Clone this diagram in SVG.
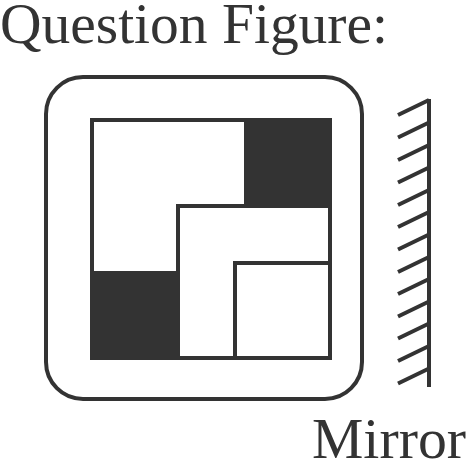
<svg xmlns="http://www.w3.org/2000/svg" width="468" height="464" viewBox="0 0 468 464">
<style>
.ln{fill:none;stroke:#333;stroke-width:4}
.blk{fill:#333;stroke:none}
.txt{font-family:"Liberation Serif","Times New Roman",serif;fill:#333}
</style>
<rect width="468" height="464" fill="#fff"/>
<text class="txt" x="0" y="43" font-size="57" textLength="388" lengthAdjust="spacingAndGlyphs">Question Figure:</text>
<g id="frame">
<rect class="ln" x="46" y="77" width="316" height="322" rx="37" ry="37"/>
</g>
<g id="figure">
<rect class="blk" x="244" y="118" width="88" height="90"/>
<rect class="blk" x="90" y="271" width="90" height="89"/>
<rect class="ln" x="92" y="120" width="238" height="238"/>
<polyline class="ln" points="178,358 178,206 330,206"/>
<polyline class="ln" points="235,358 235,263 330,263"/>
</g>
<g id="mirror">
<line class="ln" x1="429" y1="99" x2="429" y2="387"/>
<g class="ln">
<path d="M398,115 L429,100 M398,137.5 L429,122.5 M398,160 L429,145 M398,182.5 L429,167.5 M398,205 L429,190 M398,227 L429,212 M398,249.5 L429,234.5 M398,272 L429,257 M398,294 L429,279 M398,316.5 L429,301.5 M398,338.5 L429,323.5 M398,361 L429,346 M398,383.5 L429,368.5"/>
</g>
</g>
<text class="txt" x="312" y="458" font-size="56" textLength="154" lengthAdjust="spacingAndGlyphs">Mirror</text>
</svg>
